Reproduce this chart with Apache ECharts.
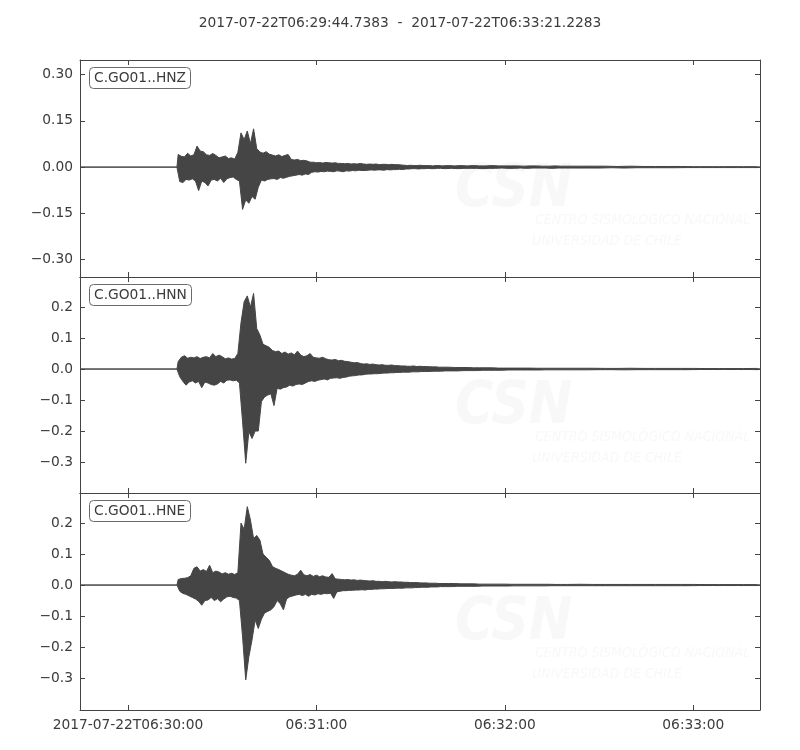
<!DOCTYPE html>
<html>
<head>
    <meta charset="utf-8">
    <title>C.GO01 2017-07-22</title>
    <script src="https://cdn.jsdelivr.net/npm/echarts@6/dist/echarts.min.js"></script>
    <style>
        html, body { margin: 0; padding: 0; background: #ffffff; }
        #chart { width: 800px; height: 750px; }
    </style>
</head>
<body>
<div id="chart"></div>
<script>
// time is in seconds relative to 2017-07-22T06:30:00
var startSec = -15.2617;   // 06:29:44.7383
var endSec = 201.2283;     // 06:33:21.2283
var xTicks = [0, 60, 120, 180];
var xTickLabels = ['2017-07-22T06:30:00', '06:31:00', '06:32:00', '06:33:00'];

var traceNames = ['C.GO01..HNZ', 'C.GO01..HNN', 'C.GO01..HNE'];
var yMin = [-0.356, -0.400, -0.403];
var yMax = [0.347, 0.297, 0.297];
var yTicksZ = [-0.30, -0.15, 0, 0.15, 0.30];
var yTicksNE = [-0.3, -0.2, -0.1, 0, 0.1, 0.2];

// envelope sample times: every 1 s to 100 s, then 2 s to 140 s, then 4 s
var secs = [];
for (var s = 16; s <= 100; s++) secs.push(s);
for (s = 102; s <= 140; s += 2) secs.push(s);
for (s = 144; s <= 200; s += 4) secs.push(s);

// upper / lower envelope, one value per sample time
var hnzTop = [
    0.041, 0.035, 0.033, 0.045, 0.036, 0.040, 0.068, 0.052, 0.050, 0.040,
    0.038, 0.044, 0.038, 0.030, 0.033, 0.036, 0.028, 0.030, 0.026, 0.048,
    0.111, 0.089, 0.117, 0.076, 0.124, 0.060, 0.049, 0.045, 0.050, 0.042,
    0.039, 0.036, 0.040, 0.034, 0.038, 0.041, 0.025, 0.023, 0.025, 0.021,
    0.022, 0.020, 0.016, 0.016, 0.014, 0.015, 0.013, 0.015, 0.014, 0.013,
    0.014, 0.012,
    0.012, 0.011, 0.012, 0.010, 0.011, 0.010, 0.012, 0.010, 0.009, 0.010,
    0.009, 0.010, 0.008, 0.009, 0.009, 0.008, 0.009, 0.008, 0.008, 0.007,
    0.006, 0.005, 0.006, 0.005, 0.005, 0.006, 0.005, 0.005, 0.005, 0.004,
    0.005, 0.005, 0.004,
    0.005, 0.004, 0.005, 0.004, 0.005, 0.004, 0.004, 0.005, 0.004, 0.004,
    0.004, 0.004, 0.003, 0.004, 0.004, 0.003, 0.003, 0.004, 0.003, 0.003,
    0.003, 0.003, 0.003, 0.002, 0.003, 0.002, 0.002, 0.002, 0.002, 0.0015,
    0.0015, 0.0015, 0.0015, 0.0015, 0.0015
];
var hnzBot = [
    -0.047, -0.050, -0.040, -0.042, -0.038, -0.045, -0.076, -0.045, -0.050, -0.061,
    -0.042, -0.040, -0.045, -0.036, -0.050, -0.038, -0.034, -0.032, -0.040, -0.045,
    -0.137, -0.106, -0.117, -0.095, -0.104, -0.065, -0.042, -0.045, -0.040, -0.038,
    -0.037, -0.040, -0.034, -0.036, -0.033, -0.030, -0.028, -0.026, -0.024, -0.026,
    -0.022, -0.024, -0.017, -0.015, -0.016, -0.014, -0.015, -0.013, -0.014, -0.015,
    -0.012, -0.013,
    -0.015, -0.012, -0.013, -0.011, -0.012, -0.010, -0.011, -0.011, -0.010, -0.009,
    -0.010, -0.009, -0.009, -0.010, -0.008, -0.009, -0.008, -0.008, -0.007, -0.008,
    -0.006, -0.006, -0.005, -0.005, -0.006, -0.005, -0.005, -0.004, -0.005, -0.005,
    -0.004, -0.004, -0.005,
    -0.004, -0.005, -0.004, -0.004, -0.004, -0.005, -0.004, -0.004, -0.003, -0.004,
    -0.004, -0.003, -0.004, -0.003, -0.003, -0.003, -0.004, -0.003, -0.003, -0.003,
    -0.003, -0.003, -0.002, -0.003, -0.002, -0.002, -0.002, -0.002, -0.0015, -0.0015,
    -0.0015, -0.0015, -0.0015, -0.0015, -0.0015
];
var hnnTop = [
    0.024, 0.038, 0.043, 0.035, 0.038, 0.036, 0.040, 0.034, 0.038, 0.040,
    0.036, 0.050, 0.040, 0.045, 0.040, 0.033, 0.036, 0.032, 0.034, 0.050,
    0.150, 0.217, 0.236, 0.200, 0.244, 0.131, 0.110, 0.080, 0.075, 0.070,
    0.060, 0.056, 0.058, 0.050, 0.055, 0.048, 0.052, 0.046, 0.058, 0.045,
    0.040, 0.043, 0.050, 0.038, 0.036, 0.035, 0.038, 0.033, 0.030, 0.029,
    0.031, 0.027,
    0.028, 0.025, 0.024, 0.022, 0.020, 0.021, 0.018, 0.016, 0.017, 0.015,
    0.016, 0.014, 0.013, 0.014, 0.012, 0.012, 0.013, 0.011, 0.011, 0.010,
    0.010, 0.009, 0.009, 0.010, 0.008, 0.009, 0.008, 0.008, 0.0075, 0.007,
    0.007, 0.006, 0.006,
    0.006, 0.005, 0.005, 0.005, 0.004, 0.004, 0.004, 0.004, 0.003, 0.003,
    0.003, 0.003, 0.003, 0.003, 0.0025, 0.0025, 0.0025, 0.0025, 0.0025, 0.0025,
    0.0025, 0.0025, 0.002, 0.002, 0.0025, 0.002, 0.002, 0.002, 0.002, 0.002,
    0.0015, 0.0015, 0.0015, 0.0015, 0.002
];
var hnnBot = [
    -0.025, -0.040, -0.052, -0.042, -0.038, -0.045, -0.040, -0.060, -0.042, -0.045,
    -0.050, -0.052, -0.048, -0.040, -0.045, -0.036, -0.035, -0.038, -0.036, -0.045,
    -0.170, -0.304, -0.202, -0.224, -0.200, -0.200, -0.105, -0.090, -0.084, -0.080,
    -0.118, -0.062, -0.065, -0.060, -0.058, -0.052, -0.055, -0.050, -0.048, -0.050,
    -0.045, -0.040, -0.038, -0.040, -0.036, -0.034, -0.032, -0.035, -0.030, -0.029,
    -0.028, -0.030,
    -0.027, -0.026, -0.023, -0.022, -0.021, -0.019, -0.019, -0.017, -0.016, -0.016,
    -0.015, -0.015, -0.014, -0.013, -0.013, -0.012, -0.012, -0.011, -0.011, -0.010,
    -0.010, -0.010, -0.009, -0.009, -0.009, -0.008, -0.008, -0.008, -0.0075, -0.007,
    -0.007, -0.007, -0.006,
    -0.006, -0.006, -0.005, -0.005, -0.005, -0.004, -0.004, -0.004, -0.004, -0.003,
    -0.003, -0.003, -0.003, -0.003, -0.003, -0.0025, -0.0025, -0.0025, -0.0025, -0.0025,
    -0.0025, -0.002, -0.002, -0.0025, -0.002, -0.002, -0.002, -0.002, -0.002, -0.0015,
    -0.0015, -0.0015, -0.0015, -0.0015, -0.002
];
var hneTop = [
    0.018, 0.021, 0.022, 0.024, 0.030, 0.054, 0.059, 0.045, 0.050, 0.044,
    0.064, 0.040, 0.045, 0.042, 0.036, 0.040, 0.035, 0.038, 0.034, 0.040,
    0.200, 0.180, 0.253, 0.210, 0.150, 0.160, 0.145, 0.100, 0.090, 0.080,
    0.060, 0.054, 0.050, 0.045, 0.040, 0.035, 0.032, 0.030, 0.035, 0.048,
    0.033, 0.030, 0.034, 0.028, 0.032, 0.027, 0.030, 0.026, 0.025, 0.037,
    0.020, 0.019,
    0.018, 0.017, 0.018, 0.016, 0.017, 0.015, 0.016, 0.015, 0.014, 0.013,
    0.014, 0.012, 0.012, 0.011, 0.012, 0.011, 0.010, 0.011, 0.010, 0.010,
    0.009, 0.009, 0.008, 0.008, 0.008, 0.007, 0.007, 0.007, 0.006, 0.006,
    0.006, 0.005, 0.005,
    0.005, 0.005, 0.004, 0.004, 0.004, 0.003, 0.003, 0.003, 0.003, 0.003,
    0.0025, 0.0025, 0.0025, 0.0025, 0.0025, 0.0025, 0.0025, 0.002, 0.002, 0.002,
    0.0025, 0.002, 0.002, 0.002, 0.002, 0.002, 0.002, 0.002, 0.002, 0.002,
    0.0015, 0.0015, 0.0015, 0.0015, 0.0015
];
var hneBot = [
    -0.020, -0.027, -0.030, -0.035, -0.040, -0.045, -0.052, -0.065, -0.050, -0.048,
    -0.040, -0.050, -0.044, -0.054, -0.045, -0.038, -0.036, -0.040, -0.042, -0.050,
    -0.167, -0.306, -0.231, -0.177, -0.113, -0.140, -0.110, -0.090, -0.085, -0.080,
    -0.070, -0.050, -0.060, -0.080, -0.045, -0.038, -0.035, -0.032, -0.030, -0.034,
    -0.030, -0.036, -0.030, -0.032, -0.028, -0.030, -0.027, -0.028, -0.026, -0.043,
    -0.022, -0.020,
    -0.018, -0.018, -0.017, -0.017, -0.016, -0.016, -0.015, -0.016, -0.014, -0.014,
    -0.013, -0.013, -0.012, -0.012, -0.011, -0.011, -0.011, -0.010, -0.010, -0.010,
    -0.009, -0.009, -0.009, -0.008, -0.008, -0.007, -0.007, -0.007, -0.006, -0.006,
    -0.006, -0.005, -0.005,
    -0.005, -0.004, -0.004, -0.004, -0.004, -0.003, -0.003, -0.003, -0.003, -0.003,
    -0.0025, -0.0025, -0.0025, -0.0025, -0.0025, -0.0025, -0.002, -0.002, -0.002, -0.002,
    -0.002, -0.002, -0.002, -0.002, -0.002, -0.002, -0.002, -0.002, -0.002, -0.0015,
    -0.0015, -0.0015, -0.0015, -0.0015, -0.0015
];

var tops = [hnzTop, hnnTop, hneTop];
var bots = [hnzBot, hnnBot, hneBot];

var FONT = 'DejaVu Sans';
var INK = '#3c3c3c';
var FRAME = '#444444';
var TRACE = '#454545';
var gridTops = [60, 277, 493];
var gridHeights = [217, 216, 217];

// one envelope as [time, value] pairs, flat at zero before the onset;
// the lower envelope sits half a step after the upper one
function buildEnvelope(vals, offset) {
    var d = [[startSec, 0], [15.6, 0]];
    for (var i = 0; i < secs.length; i++) {
        var next = i + 1 < secs.length ? secs[i + 1] : endSec;
        d.push([secs[i] + (next - secs[i]) * offset, vals[i]]);
    }
    d.push([endSec, 0]);
    return d;
}

function minus(str) {
    return str.replace('-', '\u2212');
}

var grids = [], xAxes = [], yAxes = [], series = [], titles = [], graphics = [];

titles.push({
    text: '2017-07-22T06:29:44.7383  -  2017-07-22T06:33:21.2283',
    left: 'center',
    top: 11,
    textStyle: {fontFamily: FONT, fontSize: 13.8, fontWeight: 'normal', color: INK}
});

for (var p = 0; p < 3; p++) {
    var yTicks = p === 0 ? yTicksZ : yTicksNE;
    var digits = p === 0 ? 2 : 1;

    grids.push({left: 80, right: 40, top: gridTops[p], height: gridHeights[p]});

    var tickStyle = {show: true, inside: true, length: 5, lineStyle: {color: FRAME, width: 1}};

    xAxes.push({
        type: 'value', gridIndex: p, position: 'bottom',
        min: startSec, max: endSec,
        axisLine: {show: true, onZero: false, lineStyle: {color: FRAME, width: 1}},
        axisTick: Object.assign({customValues: xTicks}, tickStyle),
        axisLabel: {
            show: p === 2,
            customValues: xTicks,
            margin: 8,
            fontFamily: FONT, fontSize: 13.8, color: INK,
            formatter: function (v) {
                return xTickLabels[xTicks.indexOf(Math.round(v))];
            }
        },
        splitLine: {show: false}
    });
    xAxes.push({
        type: 'value', gridIndex: p, position: 'top',
        min: startSec, max: endSec,
        axisLine: {show: true, onZero: false, lineStyle: {color: FRAME, width: 1}},
        axisTick: Object.assign({customValues: xTicks}, tickStyle),
        axisLabel: {show: false},
        splitLine: {show: false}
    });

    yAxes.push({
        type: 'value', gridIndex: p, position: 'left',
        min: yMin[p], max: yMax[p],
        axisLine: {show: true, onZero: false, lineStyle: {color: FRAME, width: 1}},
        axisTick: Object.assign({customValues: yTicks}, tickStyle),
        axisLabel: {
            customValues: yTicks,
            margin: 7,
            fontFamily: FONT, fontSize: 13.8, color: INK,
            formatter: (function (dg) {
                return function (v) { return minus(v.toFixed(dg)); };
            })(digits)
        },
        splitLine: {show: false}
    });
    yAxes.push({
        type: 'value', gridIndex: p, position: 'right',
        min: yMin[p], max: yMax[p],
        axisLine: {show: true, onZero: false, lineStyle: {color: FRAME, width: 1}},
        axisTick: Object.assign({customValues: yTicks}, tickStyle),
        axisLabel: {show: false},
        splitLine: {show: false}
    });

    // upper and lower envelope, each filled to zero
    [[tops[p], 0], [bots[p], 0.5]].forEach(function (env) {
        series.push({
            name: traceNames[p],
            type: 'line',
            xAxisIndex: 2 * p,
            yAxisIndex: 2 * p,
            data: buildEnvelope(env[0], env[1]),
            showSymbol: false,
            symbol: 'none',
            silent: true,
            clip: true,
            z: 3,
            lineStyle: {color: TRACE, width: 1},
            areaStyle: {color: TRACE, opacity: 1, origin: 'auto'}
        });
    });

    titles.push({
        text: traceNames[p],
        left: 89,
        top: gridTops[p] + 7,
        padding: [3, 5],
        borderColor: '#6a6a6a',
        borderWidth: 1,
        borderRadius: 4,
        backgroundColor: '#ffffff',
        textStyle: {fontFamily: FONT, fontSize: 13.8, fontWeight: 'normal', color: INK, lineHeight: 16}
    });

    // faint CSN watermark behind the trace
    var wy = gridTops[p];
    graphics.push({
        type: 'text', left: 455, top: wy + 102, z: -1, silent: true,
        style: {text: 'CSN', fill: '#f8f8f8', font: 'italic bold 58px "DejaVu Sans Condensed"'}
    });
    graphics.push({
        type: 'text', left: 535, top: wy + 153, z: -1, silent: true,
        style: {text: 'CENTRO SISMOLÓGICO NACIONAL', fill: '#f8f8f8', font: 'italic 14px "DejaVu Sans Condensed"'}
    });
    graphics.push({
        type: 'text', left: 532, top: wy + 174, z: -1, silent: true,
        style: {text: 'UNIVERSIDAD DE CHILE', fill: '#f8f8f8', font: 'italic 14px "DejaVu Sans Condensed"'}
    });
}

var chart = echarts.init(document.getElementById('chart'), null, {renderer: 'canvas'});
chart.setOption({
    animation: false,
    backgroundColor: '#ffffff',
    title: titles,
    grid: grids,
    xAxis: xAxes,
    yAxis: yAxes,
    series: series,
    graphic: graphics,
    tooltip: {show: false}
});
</script>
</body>
</html>
